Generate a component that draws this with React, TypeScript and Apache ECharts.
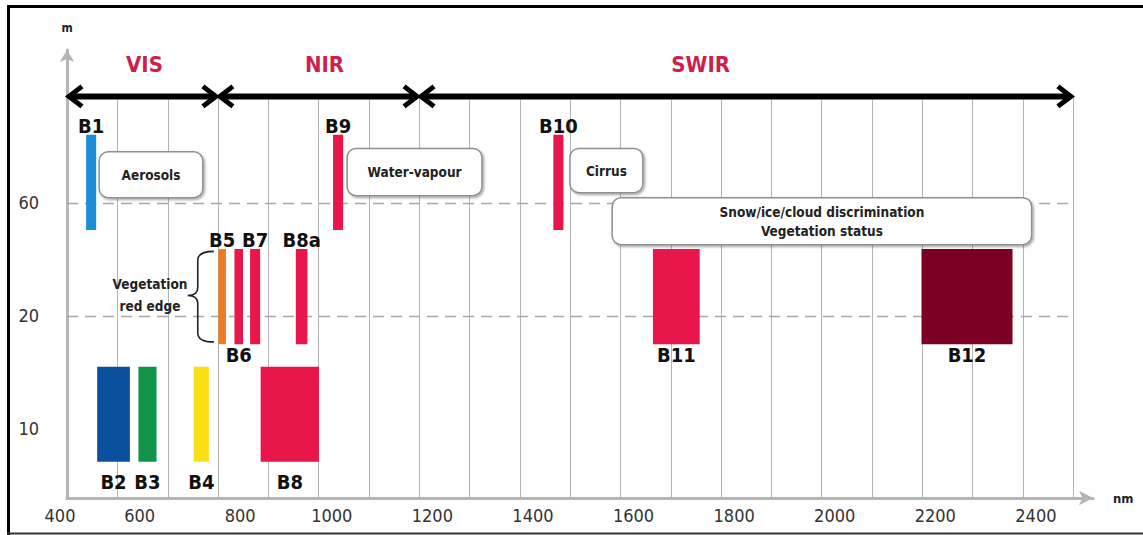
import React, { useEffect, useRef } from "react";
import * as echarts from "echarts";

// ---------- data ----------
const bandNames = ["B1", "B2", "B3", "B4", "B5", "B6", "B7", "B8", "B8a", "B9", "B10", "B11", "B12"];
const bandStartNm = [438, 460, 542, 652, 701, 733, 764, 785, 855, 929, 1367, 1565, 2099];
const bandEndNm = [458, 525, 578, 682, 716, 750, 784, 901, 878, 949, 1387, 1658, 2280];
const bandResolution = [60, 10, 10, 10, 20, 20, 20, 10, 20, 60, 60, 20, 20];

const resolutionTicks = [10, 20, 60];
const dashedResolutions = [20, 60];

const xTickLabels = [400, 600, 800, 1000, 1200, 1400, 1600, 1800, 2000, 2200, 2400];
const xGridNm = [500, 600, 700, 800, 900, 1000, 1100, 1200, 1300, 1400, 1500, 1600, 1700, 1800, 1900, 2000, 2100, 2200, 2300, 2400];

const regionNames = ["VIS", "NIR", "SWIR"];
const regionStartNm = [400, 700, 1100];
const regionEndNm = [700, 1100, 2400];
const regionLabelNm = [554, 912, 1660];

const calloutTexts = ["Aerosols", "Water-vapour", "Cirrus", "Snow/ice/cloud discrimination\nVegetation status"];
const calloutLeftNm = [464, 957, 1400, 1484];
const calloutRightNm = [670, 1225, 1545, 2318];
const calloutTopLevel = [3.45, 3.48, 3.48, 3.045];
const calloutBottomLevel = [3.045, 3.062, 3.089, 2.629];

const braceText = "Vegetation\nred edge";
const braceNm = [640, 660, 692, 565]; // tip, spine, hook end, text centre
const braceLevels = [1.77, 2.18, 2.57]; // bottom, tip, top

// ---------- style / layout ----------
const bandColors = ["#1b8fd6", "#0a4f9e", "#119447", "#f9df13", "#ee7b22", "#e8164a", "#e8164a", "#e8164a", "#e8164a", "#e8164a", "#e8164a", "#e8164a", "#7b0024"];
const bandLabelSide = ["top", "bottom", "bottom", "bottom", "top", "bottom", "top", "bottom", "top", "top", "top", "bottom", "bottom"];
const rowSpan = [[0.71, 1.55], [1.75, 2.59], [2.76, 3.6]]; // per resolution row, axis units
const rowLabelGap = [10, 1, 1];

const X_MIN = 400;
const X_MAX = 2440;
const Y_MIN = 0.39;
const Y_MAX = 4.35;
const ARROW_LEVEL = 3.94;
const REGION_LABEL_LEVEL = 4.22;

const COND = "'DejaVu Sans Condensed', 'DejaVu Sans', sans-serif";
const NARROW = "'Liberation Sans Narrow', 'DejaVu Sans Condensed', sans-serif";
const xLabelShift: Record<number, number> = { 400: 7, 600: 28, 800: 28 };
const DEFAULT_SHIFT = 37;

function levelOf(res: number) {
  return resolutionTicks.indexOf(res) + 1;
}

export default function App() {
  const ref = useRef<HTMLDivElement>(null);

  useEffect(() => {
    if (!ref.current) return;
    const chart = echarts.init(ref.current, null, { renderer: "svg" });

    const rich: Record<string, any> = {};
    [7, 28, 37].forEach((s) => {
      rich["s" + s] = {
        padding: [0, s * 2, 0, 0],
        fontFamily: NARROW,
        fontSize: 18,
        color: "#333",
      };
    });

    const option: any = {
      animation: false,
      backgroundColor: "#fff",
      grid: { left: 67, right: 50, top: 50, bottom: 37, containLabel: false },
      xAxis: {
        type: "value",
        min: X_MIN,
        max: X_MAX,
        name: "nm",
        nameLocation: "end",
        nameGap: 20,
        nameTextStyle: { fontFamily: COND, fontWeight: "bold", fontSize: 13, color: "#222", padding: [6, 0, 0, 0] },
        axisLine: {
          show: true,
          onZero: false,
          symbol: ["none", "arrow"],
          symbolSize: [11, 14],
          lineStyle: { color: "#b5b5b5", width: 3 },
        },
        axisTick: { show: false },
        splitLine: { show: false },
        axisLabel: {
          customValues: xTickLabels,
          interval: 0,
          margin: 8,
          formatter: (v: number) => `{s${xLabelShift[v] ?? DEFAULT_SHIFT}|${v}}`,
          rich,
        },
      },
      yAxis: {
        type: "value",
        min: Y_MIN,
        max: Y_MAX,
        name: "m",
        nameLocation: "end",
        nameGap: 16,
        nameTextStyle: { fontFamily: COND, fontWeight: "bold", fontSize: 12, color: "#222", align: "center" },
        axisLine: {
          show: true,
          onZero: false,
          symbol: ["none", "arrow"],
          symbolSize: [11, 12],
          lineStyle: { color: "#b5b5b5", width: 3 },
        },
        axisTick: { show: false },
        splitLine: { show: false },
        axisLabel: {
          customValues: resolutionTicks.map((r) => levelOf(r)),
          margin: 28,
          fontFamily: NARROW,
          fontSize: 18,
          color: "#333",
          formatter: (v: number) => String(resolutionTicks[Math.round(v) - 1]),
        },
      },
      series: [
        {
          type: "custom",
          name: "grid",
          silent: true,
          z: 1,
          data: xGridNm.map((v) => [v, ARROW_LEVEL]),
          renderItem: (params: any, api: any) => {
            const p1 = api.coord([api.value(0), Y_MIN]);
            const p2 = api.coord([api.value(0), ARROW_LEVEL]);
            return {
              type: "line",
              shape: { x1: Math.round(p1[0]) + 0.5, y1: p1[1], x2: Math.round(p2[0]) + 0.5, y2: p2[1] },
              style: { stroke: "#b3b3b3", lineWidth: 1 },
            };
          },
        },
        {
          type: "custom",
          name: "dashed",
          silent: true,
          z: 2,
          data: dashedResolutions.map((r) => [X_MIN, levelOf(r)]),
          renderItem: (params: any, api: any) => {
            const lv = api.value(1);
            const p1 = api.coord([400, lv]);
            const p2 = api.coord([2400, lv]);
            return {
              type: "line",
              shape: { x1: p1[0], y1: Math.round(p1[1]) + 0.5, x2: p2[0], y2: Math.round(p2[1]) + 0.5 },
              style: { stroke: "#a8a8a8", lineWidth: 1.3, lineDash: [11, 7] },
            };
          },
        },
        {
          type: "custom",
          name: "callouts",
          silent: true,
          z: 3,
          data: calloutLeftNm.map((l, i) => [l, calloutTopLevel[i], calloutRightNm[i], calloutBottomLevel[i]]),
          renderItem: (params: any, api: any) => {
            const i = params.dataIndex;
            const p1 = api.coord([api.value(0), api.value(1)]);
            const p2 = api.coord([api.value(2), api.value(3)]);
            return {
              type: "group",
              children: [
                {
                  type: "rect",
                  shape: { x: p1[0], y: p1[1], width: p2[0] - p1[0], height: p2[1] - p1[1], r: 9 },
                  style: {
                    fill: "#fff",
                    stroke: "#8f8f8f",
                    lineWidth: 1.5,
                    shadowBlur: 2,
                    shadowOffsetX: 1.5,
                    shadowOffsetY: 1.5,
                    shadowColor: "rgba(0,0,0,0.35)",
                  },
                },
                {
                  type: "text",
                  x: (p1[0] + p2[0]) / 2,
                  y: (p1[1] + p2[1]) / 2,
                  style: {
                    text: calloutTexts[i],
                    fill: "#222",
                    fontFamily: COND,
                    fontWeight: "bold",
                    fontSize: 13.5,
                    lineHeight: 19,
                    align: "center",
                    verticalAlign: "middle",
                  },
                },
              ],
            };
          },
        },
        {
          type: "custom",
          name: "regions",
          silent: true,
          z: 4,
          data: regionStartNm.map((s, i) => [s, ARROW_LEVEL, regionEndNm[i], regionLabelNm[i]]),
          renderItem: (params: any, api: any) => {
            const i = params.dataIndex;
            const a = api.coord([api.value(0), ARROW_LEVEL]);
            const b = api.coord([api.value(2), ARROW_LEVEL]);
            const t = api.coord([api.value(3), REGION_LABEL_LEVEL]);
            const y = a[1];
            const hx = 15;
            const hy = 10;
            return {
              type: "group",
              children: [
                { type: "line", shape: { x1: a[0] + 2, y1: y, x2: b[0] - 2, y2: y }, style: { stroke: "#000", lineWidth: 6 } },
                {
                  type: "polyline",
                  shape: { points: [[a[0] + hx, y - hy], [a[0] + 2, y], [a[0] + hx, y + hy]] },
                  style: { stroke: "#000", lineWidth: 5, fill: "none", lineJoin: "miter" },
                },
                {
                  type: "polyline",
                  shape: { points: [[b[0] - hx, y - hy], [b[0] - 2, y], [b[0] - hx, y + hy]] },
                  style: { stroke: "#000", lineWidth: 5, fill: "none", lineJoin: "miter" },
                },
                {
                  type: "text",
                  x: t[0],
                  y: t[1],
                  style: {
                    text: regionNames[i],
                    fill: "#cc1f4b",
                    fontFamily: COND,
                    fontWeight: "bold",
                    fontSize: 22,
                    align: "center",
                    verticalAlign: "middle",
                  },
                },
              ],
            };
          },
        },
        {
          type: "custom",
          name: "brace",
          silent: true,
          z: 4,
          data: [[braceNm[0], braceLevels[1]]],
          renderItem: (params: any, api: any) => {
            const tip = api.coord([braceNm[0], braceLevels[1]]);
            const sx = api.coord([braceNm[1], braceLevels[1]])[0];
            const ex = api.coord([braceNm[2], braceLevels[1]])[0];
            const yt = api.coord([braceNm[1], braceLevels[2]])[1];
            const yb = api.coord([braceNm[1], braceLevels[0]])[1];
            const tx = tip[0];
            const ty = tip[1];
            const d =
              `M${ex} ${yt} Q${sx} ${yt} ${sx} ${yt + 9} L${sx} ${ty - 8} Q${sx} ${ty} ${tx} ${ty} ` +
              `Q${sx} ${ty} ${sx} ${ty + 8} L${sx} ${yb - 9} Q${sx} ${yb} ${ex} ${yb}`;
            const tc = api.coord([braceNm[3], braceLevels[1]]);
            return {
              type: "group",
              children: [
                { type: "path", shape: { pathData: d }, style: { stroke: "#222", lineWidth: 1.6, fill: "none" } },
                {
                  type: "text",
                  x: tc[0],
                  y: tc[1],
                  style: {
                    text: braceText,
                    fill: "#222",
                    fontFamily: COND,
                    fontWeight: "bold",
                    fontSize: 13.5,
                    lineHeight: 22,
                    align: "center",
                    verticalAlign: "middle",
                  },
                },
              ],
            };
          },
        },
        {
          type: "custom",
          name: "bands",
          silent: true,
          z: 5,
          data: bandStartNm.map((s, i) => [s, levelOf(bandResolution[i]), bandEndNm[i]]),
          renderItem: (params: any, api: any) => {
            const i = params.dataIndex;
            const ri = Math.round(api.value(1)) - 1;
            const [lo, hi] = rowSpan[ri];
            const p1 = api.coord([api.value(0), hi]);
            const p2 = api.coord([api.value(2), lo]);
            const cx = (p1[0] + p2[0]) / 2;
            const top = bandLabelSide[i] === "top";
            return {
              type: "group",
              children: [
                {
                  type: "rect",
                  shape: { x: p1[0], y: p1[1], width: p2[0] - p1[0], height: p2[1] - p1[1] },
                  style: { fill: bandColors[i] },
                },
                {
                  type: "text",
                  x: cx,
                  y: top ? p1[1] + 1 : p2[1] + rowLabelGap[ri],
                  style: {
                    text: bandNames[i],
                    fill: "#111",
                    fontFamily: COND,
                    fontWeight: "bold",
                    fontSize: 20,
                    align: "center",
                    verticalAlign: top ? "bottom" : "top",
                  },
                },
              ],
            };
          },
        },
      ],
      graphic: [
        { type: "line", shape: { x1: 8.5, y1: 5, x2: 8.5, y2: 535 }, style: { stroke: "#000", lineWidth: 3 } },
        { type: "line", shape: { x1: 7, y1: 6.5, x2: 1143, y2: 6.5 }, style: { stroke: "#000", lineWidth: 3 } },
        { type: "line", shape: { x1: 7, y1: 533.5, x2: 1143, y2: 533.5 }, style: { stroke: "#333", lineWidth: 2 } },
      ],
    };

    chart.setOption(option);
    return () => chart.dispose();
  }, []);

  return (
    <div
      ref={ref}
      style={{ position: "fixed", left: 0, top: 0, width: 1143, height: 535, background: "#fff" }}
    />
  );
}
